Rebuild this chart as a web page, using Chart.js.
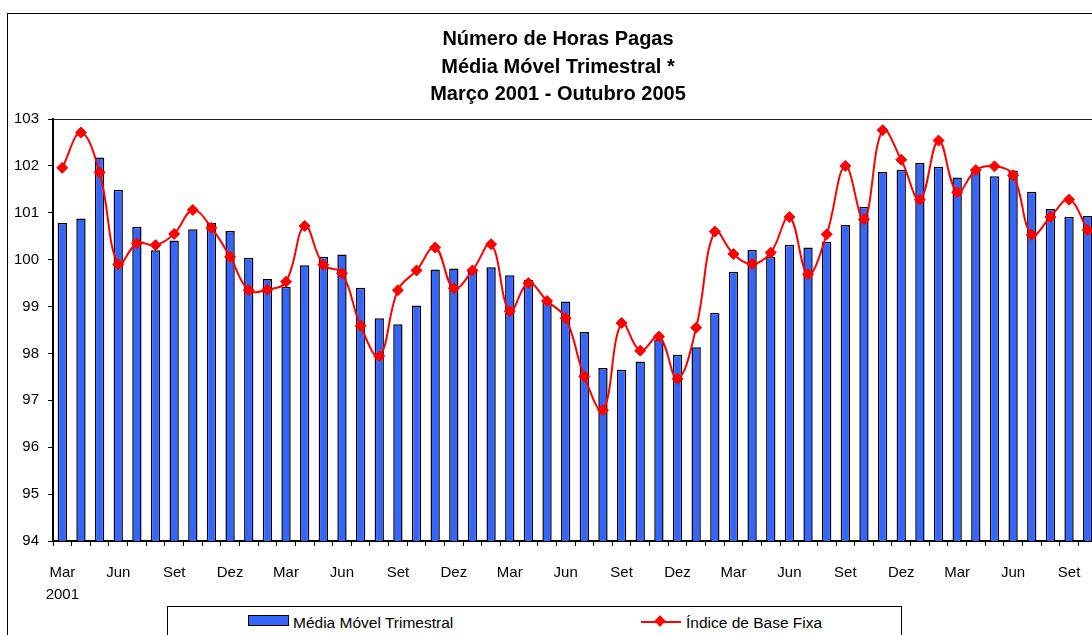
<!DOCTYPE html>
<html>
<head>
<meta charset="utf-8">
<script src="https://cdn.jsdelivr.net/npm/chart.js@4"></script>
<style>
    html, body { margin: 0; padding: 0; background: #fff; overflow: hidden; }
    #wrap { position: relative; width: 1092px; height: 635px; overflow: hidden; }
    #chart { position: absolute; left: 0; top: 0; }
    #legend {
        position: absolute; left: 167px; top: 606px; width: 733px; height: 60px;
        border: 1px solid #000; background: #fff;
        font-family: "Liberation Sans", Arial, sans-serif; font-size: 15.5px; color: #000;
    }
    #legend .item { position: absolute; top: 0; height: 32px; }
    #legend .txt { position: absolute; top: 7px; white-space: nowrap; }
</style>
</head>
<body>
<div id="wrap">
    <canvas id="chart" width="1120" height="660"></canvas>
    <div id="legend"></div>
</div>
<script>
(function () {
    "use strict";

    const FONT = "'Liberation Sans', Arial, sans-serif";

    // Mar 2001 - Out 2005
    const categories = [
        "Mar 2001", "Abr 2001", "Mai 2001", "Jun 2001", "Jul 2001", "Ago 2001", "Set 2001", "Out 2001", "Nov 2001", "Dez 2001",
        "Jan 2002", "Fev 2002", "Mar 2002", "Abr 2002", "Mai 2002", "Jun 2002", "Jul 2002", "Ago 2002", "Set 2002", "Out 2002", "Nov 2002", "Dez 2002",
        "Jan 2003", "Fev 2003", "Mar 2003", "Abr 2003", "Mai 2003", "Jun 2003", "Jul 2003", "Ago 2003", "Set 2003", "Out 2003", "Nov 2003", "Dez 2003",
        "Jan 2004", "Fev 2004", "Mar 2004", "Abr 2004", "Mai 2004", "Jun 2004", "Jul 2004", "Ago 2004", "Set 2004", "Out 2004", "Nov 2004", "Dez 2004",
        "Jan 2005", "Fev 2005", "Mar 2005", "Abr 2005", "Mai 2005", "Jun 2005", "Jul 2005", "Ago 2005", "Set 2005", "Out 2005",
    ];

    const mediaMovel = [
        100.78, 100.88, 102.18, 101.49, 100.70, 100.20, 100.41, 100.65, 100.78, 100.61,
        100.04, 99.59, 99.42, 99.88, 100.06, 100.11, 99.40, 98.75, 98.62, 99.02, 99.79, 99.81,
        99.80, 99.84, 99.67, 99.57, 99.13, 99.11, 98.46, 97.69, 97.65, 97.83, 98.30, 97.97,
        98.13, 98.87, 99.74, 100.21, 100.06, 100.32, 100.26, 100.38, 100.74, 101.13, 101.87, 101.92,
        102.06, 101.98, 101.75, 101.88, 101.78, 101.90, 101.45, 101.08, 100.91, 100.93,
    ];

    const indiceBaseFixa = [
        101.96, 102.71, 101.86, 99.90, 100.35, 100.31, 100.55, 101.06, 100.68, 100.06,
        99.35, 99.36, 99.53, 100.72, 99.89, 99.71, 98.59, 97.94, 99.35, 99.77, 100.26, 99.39,
        99.77, 100.33, 98.90, 99.50, 99.12, 98.75, 97.51, 96.79, 98.65, 98.06, 98.36, 97.46,
        98.55, 100.60, 100.12, 99.91, 100.15, 100.91, 99.69, 100.54, 102.00, 100.86, 102.76, 102.13,
        101.28, 102.54, 101.44, 101.91, 101.99, 101.80, 100.53, 100.91, 101.28, 100.63,
    ];

    const titleLines = [
        "Número de Horas Pagas",
        "Média Móvel Trimestral *",
        "Março 2001 - Outubro 2005",
    ];

    const yMin = 94;
    const yMax = 103;

    const BAR_COLOR = "#3366ff";
    const LINE_COLOR = "#ff0000";

    // Frame around the whole chart and the plot area
    const framePlugin = {
        id: "frame",
        beforeDraw(chart) {
            const ctx = chart.ctx;
            ctx.save();
            ctx.fillStyle = "#fff";
            ctx.fillRect(0, 0, chart.width, chart.height);
            ctx.strokeStyle = "#000";
            ctx.lineWidth = 1;
            ctx.strokeRect(7.5, 13.5, chart.width - 14, chart.height - 8);
            ctx.restore();
        },
        afterDraw(chart) {
            const a = chart.chartArea;
            const ctx = chart.ctx;
            ctx.save();
            ctx.strokeStyle = "#222";
            ctx.lineWidth = 1;
            ctx.beginPath();
            ctx.moveTo(a.left, a.top + 0.5);
            ctx.lineTo(a.right, a.top + 0.5);
            ctx.lineTo(a.right - 0.5, a.bottom);
            ctx.stroke();
            ctx.restore();
        },
    };

    const ctx = document.getElementById("chart").getContext("2d");

    const chart = new Chart(ctx, {
        data: {
            labels: categories,
            datasets: [
                {
                    type: "line",
                    label: "Índice de Base Fixa",
                    data: indiceBaseFixa,
                    order: 0,
                    borderColor: LINE_COLOR,
                    borderWidth: 2,
                    backgroundColor: LINE_COLOR,
                    pointStyle: "rectRot",
                    pointRadius: 5.5,
                    pointBorderWidth: 1,
                    pointBackgroundColor: LINE_COLOR,
                    pointBorderColor: LINE_COLOR,
                    tension: 0.4,
                },
                {
                    type: "bar",
                    label: "Média Móvel Trimestral",
                    data: mediaMovel,
                    order: 1,
                    backgroundColor: BAR_COLOR,
                    borderColor: "#000",
                    borderWidth: 1.5,
                    borderSkipped: false,
                    categoryPercentage: 1,
                    barPercentage: 0.5,
                },
            ],
        },
        options: {
            responsive: false,
            animation: false,
            devicePixelRatio: 1,
            layout: {
                padding: { left: 7, top: 12, right: 11, bottom: 49 },
            },
            plugins: {
                legend: { display: false },
                tooltip: { enabled: false },
                title: {
                    display: true,
                    text: titleLines,
                    color: "#000",
                    font: { family: FONT, size: 20, weight: "bold", lineHeight: 1.375 },
                    padding: { top: 14, bottom: 10.5 },
                },
            },
            scales: {
                x: {
                    offset: true,
                    grid: {
                        offset: true,
                        drawOnChartArea: false,
                        drawTicks: true,
                        tickLength: 5,
                        color: "#000",
                    },
                    border: { display: true, color: "#000", width: 2 },
                    ticks: {
                        autoSkip: false,
                        maxRotation: 0,
                        minRotation: 0,
                        padding: 16,
                        color: "#000",
                        font: { family: FONT, size: 15, lineHeight: 1.45 },
                        callback: function (value, index) {
                            const parts = categories[index].split(" ");
                            if (index === 0) {
                                return parts;
                            }
                            return index % 3 === 0 ? parts[0] : "";
                        },
                    },
                    afterFit: function (scale) {
                        scale.height = 70;
                    },
                },
                y: {
                    min: yMin,
                    max: yMax,
                    grid: {
                        drawOnChartArea: false,
                        drawTicks: true,
                        tickLength: 5,
                        color: "#000",
                    },
                    border: { display: true, color: "#000", width: 2 },
                    ticks: {
                        stepSize: 1,
                        padding: 9,
                        color: "#000",
                        font: { family: FONT, size: 15 },
                    },
                    afterFit: function (scale) {
                        scale.width = 46;
                    },
                },
                yRight: {
                    position: "right",
                    display: true,
                    grid: { display: false },
                    border: { display: false },
                    ticks: { display: false },
                    afterFit: function (scale) {
                        scale.width = 12;
                    },
                },
            },
        },
        plugins: [framePlugin],
    });

    // Legend built from the chart datasets
    const legendEl = document.getElementById("legend");
    const barDs = chart.data.datasets.find((d) => d.type === "bar");
    const lineDs = chart.data.datasets.find((d) => d.type === "line");

    const barItem = document.createElement("div");
    barItem.className = "item";
    barItem.style.left = "80px";
    barItem.innerHTML =
        '<div style="position:absolute;left:0;top:8px;width:41px;height:11px;box-sizing:border-box;' +
        "border:1.5px solid #000;background:" + barDs.backgroundColor + '"></div>' +
        '<div class="txt" style="left:45px"></div>';
    barItem.querySelector(".txt").textContent = barDs.label;
    legendEl.appendChild(barItem);

    const lineItem = document.createElement("div");
    lineItem.className = "item";
    lineItem.style.left = "473px";
    lineItem.innerHTML =
        '<div style="position:absolute;left:0;top:14px;width:40px;height:2px;background:' + lineDs.borderColor + '"></div>' +
        '<div style="position:absolute;left:15px;top:10px;width:8px;height:8px;transform:rotate(45deg);background:' +
        lineDs.borderColor + '"></div>' +
        '<div class="txt" style="left:45px"></div>';
    lineItem.querySelector(".txt").textContent = lineDs.label;
    legendEl.appendChild(lineItem);
})();
</script>
</body>
</html>
